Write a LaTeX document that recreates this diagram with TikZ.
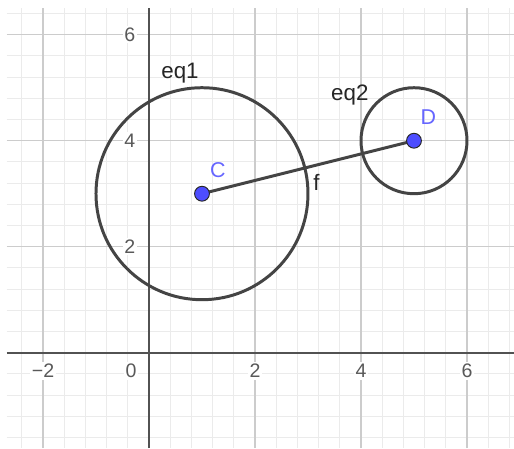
\documentclass[tikz,border=0pt]{standalone}
\usepackage{fontspec}
\setmainfont{Liberation Sans}
\definecolor{ptblue}{RGB}{77,77,255}
\definecolor{labblue}{RGB}{102,102,255}
\definecolor{linegray}{RGB}{68,68,68}
\begin{document}
\begin{tikzpicture}[
  minorgrid/.style={draw=black!8, line width=0.5pt},
  majorgrid/.style={draw=black!20, line width=0.6pt},
  axisline/.style={draw=black!68, line width=1pt},
  ticklab/.style={fill=white, inner sep=1pt, text=black!65, font=\fontsize{10.5}{12}\selectfont},
  conic/.style={draw=linegray, line width=1.6pt, circle, inner sep=0pt},
  seg/.style={draw=linegray, line width=1.6pt},
  pointdot/.style={circle, fill=ptblue, draw=black!85, line width=0.5pt, minimum size=0.28cm, inner sep=0pt},
  ptlab/.style={text=labblue, font=\fontsize{11.5}{13}\selectfont},
  objlab/.style={text=black!85, font=\fontsize{12}{14}\selectfont}
]
\useasboundingbox (-2.811,-1.798) rectangle (6.887,6.655);
\fill[white] (-2.811,-1.798) rectangle (6.887,6.655);
% grid
\draw[minorgrid, step=0.4] (-2.68,-1.798) grid (6.887,6.50);
\draw[majorgrid, step=2] (-2.68,-1.798) grid (6.887,6.50);
% axes
\coordinate (xl) at (-2.68,0);
\coordinate (xr) at (6.887,0);
\coordinate (yb) at (0,-1.798);
\coordinate (yt) at (0,6.50);
\draw[axisline] (xl) -- (xr);
\draw[axisline] (yb) -- (yt);
% tick labels
\node[ticklab] (txm2) at (-2,-0.345) {−2};
\node[ticklab] (tx0) at (-0.34,-0.345) {0};
\node[ticklab] (tx2) at (2,-0.345) {2};
\node[ticklab] (tx4) at (4,-0.345) {4};
\node[ticklab] (tx6) at (6,-0.345) {6};
\node[ticklab] (ty2) at (-0.36,2) {2};
\node[ticklab] (ty4) at (-0.36,4) {4};
\node[ticklab] (ty6) at (-0.36,6) {6};
% circles
\node[conic, minimum size=4cm] (eq1) at (1,3) {};
\node[conic, minimum size=2cm] (eq2) at (5,4) {};
% segment
\coordinate (C) at (1,3);
\coordinate (D) at (5,4);
\draw[seg] (C) -- (D);
% points
\node[pointdot] (Cpt) at (C) {};
\node[pointdot] (Dpt) at (D) {};
% labels
\node[ptlab] (Clab) at (1.30,3.45) {C};
\node[ptlab] (Dlab) at (5.27,4.45) {D};
\node[objlab] (flab) at (3.16,3.21) {f};
\node[objlab] (eq1lab) at (0.585,5.28) {eq1};
\node[objlab] (eq2lab) at (3.79,4.86) {eq2};
\end{tikzpicture}
\end{document}
